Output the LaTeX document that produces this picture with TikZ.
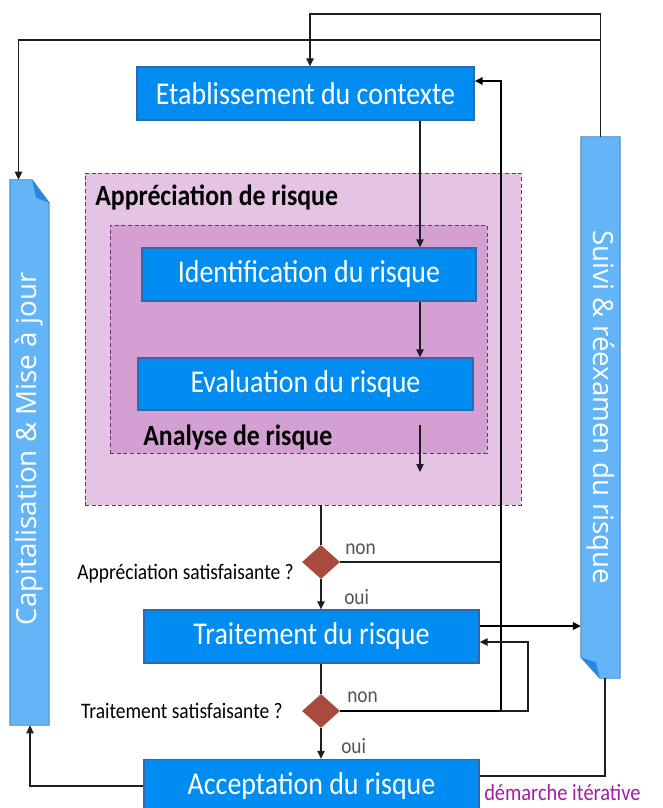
\documentclass[tikz,border=0pt]{standalone}
\usepackage{fontspec}
\setmainfont{Carlito}[FakeStretch=0.88]
\newfontfamily\barfont{Open Sans}
\usetikzlibrary{arrows.meta,shapes.geometric,calc}
\definecolor{boxblue}{RGB}{0,140,240}
\definecolor{boxborder}{RGB}{45,105,175}
\definecolor{barblue}{RGB}{99,181,247}
\definecolor{barborder}{RGB}{75,135,200}
\definecolor{foldblue}{RGB}{40,135,225}
\definecolor{outerfill}{RGB}{228,195,227}
\definecolor{innerfill}{RGB}{212,159,211}
\definecolor{dashpurple}{RGB}{120,45,120}
\definecolor{diamondred}{RGB}{169,74,63}
\definecolor{itpurple}{RGB}{160,32,160}
\definecolor{labgray}{RGB}{85,85,85}
\definecolor{linegray}{RGB}{30,30,30}
\begin{document}
\begin{tikzpicture}[x=0.75pt,y=-0.75pt,
  stepbox/.style={draw=boxborder, line width=1pt, fill=boxblue, text=white,
    font=\fontsize{23.8}{27}\selectfont, inner sep=0pt, minimum height=39.75pt},
  zone/.style={draw=dashpurple, dashed, dash pattern=on 3pt off 2pt, line width=0.7pt, inner sep=0pt},
  decision/.style={diamond, fill=diamondred, draw=none, minimum width=28.5pt, minimum height=25.5pt, inner sep=0pt},
  barnode/.style={draw=none, inner sep=0pt, minimum width=29pt},
  bartext/.style={text=white, font=\barfont\fontsize{20.8}{24}\selectfont, inner sep=0pt},
  zonelabel/.style={font=\bfseries\fontsize{22}{25}\selectfont, anchor=west, inner sep=0pt},
  question/.style={font=\fontsize{16.6}{19}\selectfont, anchor=east, inner sep=0pt},
  answer/.style={font=\fontsize{16.5}{18}\selectfont, text=labgray, anchor=west, inner sep=0pt},
  conn/.style={draw=linegray, line width=0.9pt},
  thickconn/.style={draw=black, line width=1.8pt},
  tip/.style={-{Triangle[length=6pt,width=5.5pt]}}
]
\useasboundingbox (0,0) rectangle (663,808);
\clip (0,0) rectangle (663,808);

% zones
\node[zone, fill=outerfill, minimum width=327pt, minimum height=249pt] (outer) at (303,339) {};
\node[zone, fill=innerfill, minimum width=282.75pt, minimum height=171pt] (inner) at (298.5,339) {};
\node[zonelabel] (lapp) at (95,197) {Appréciation de risque};
\node[zonelabel] (lana) at (143,438) {Analyse de risque};

% main boxes
\node[stepbox, minimum width=252.75pt] (etab) at (305.5,93.5) {Etablissement du contexte};
\node[stepbox, minimum width=250.5pt] (ident) at (309,274.5) {Identification du risque};
\node[stepbox, minimum width=251.25pt, minimum height=39pt] (eval) at (305.5,384) {Evaluation du risque};
\node[stepbox, minimum width=251.25pt] (trait) at (311.5,636.5) {Traitement du risque};
\node[stepbox, minimum width=251.25pt] (accept) at (311.5,786) {Acceptation du risque};

% decisions
\node[decision] (d1) at (321,562) {};
\node[decision] (d2) at (321,711) {};
\node[question] (q1) at (294,574) {Appréciation satisfaisante ?};
\node[question] (q2) at (283,711) {Traitement satisfaisante ?};
\node[answer] (n1) at (345,549) {non};
\node[answer] (o1) at (344,597) {oui};
\node[answer] (n2) at (347,697) {non};
\node[answer] (o2) at (341,746) {oui};

% side bars
\node[barnode, minimum height=408.75pt] (cap) at (29.5,452.5) {};
\fill[barblue, draw=barborder, line width=0.7pt] (cap.south west) -- (cap.north west) -- ($(cap.north east)+(-17,0)$) -- ($(cap.north east)+(0,23)$) -- (cap.south east) -- cycle;
\fill[foldblue] ($(cap.north east)+(-17,0)$) -- ($(cap.north east)+(0,23)$) -- ($(cap.north east)+(-13,18)$) -- cycle;
\node[bartext, rotate=90] (captext) at (29.5,449) {Capitalisation \& Mise à jour};

\node[barnode, minimum height=405.75pt] (suivi) at (600.5,407.5) {};
\fill[barblue, draw=barborder, line width=0.7pt] (suivi.north west) -- (suivi.north east) -- (suivi.south east) -- ($(suivi.south west)+(19,0)$) -- ($(suivi.south west)+(0,-21)$) -- cycle;
\fill[foldblue] ($(suivi.south west)+(19,0)$) -- ($(suivi.south west)+(0,-21)$) -- ($(suivi.south west)+(15,-16)$) -- cycle;
\node[bartext, rotate=-90] (suivitext) at (600.5,407.5) {Suivi \& réexamen du risque};

\node[font=\fontsize{17.4}{20}\selectfont, text=itpurple, anchor=west, inner sep=0pt] (iter) at (484,793) {démarche itérative};

% helper coordinates
\coordinate (ytop) at (0,14);
\coordinate (ysec) at (600,40);
\coordinate (x310) at (310,0);
\coordinate (x18) at (18.5,0);
\coordinate (x420) at (420,0);
\coordinate (a1) at (420,425);
\coordinate (a2) at (420,472);
\coordinate (vx) at (501,0);
\coordinate (vr) at (528,0);
\coordinate (ya) at (0,81);
\coordinate (yr) at (0,642);
\coordinate (ys) at (0,626);
\coordinate (x30) at (30,0);
\coordinate (x605) at (605,0);
\coordinate (yb) at (0,776);

% connectors
\draw[conn, tip] (suivi.north) -- (suivi.north |- ytop) -| (etab.north -| x310);
\draw[conn, tip] (ysec) -| (cap.north -| x18);
\draw[conn, tip] (etab.south -| x420) -- (ident.north -| x420);
\draw[conn, tip] (ident.south -| x420) -- (eval.north -| x420);
\draw[conn, tip] (a1) -- (a2);
\draw[conn] (d1.north |- outer.south) -- (d1.north);
\draw[conn, tip] (d1.south) -- (trait.north -| d1.south);
\draw[conn] (d1.east) -- (d1.east -| vx);
\draw[thickconn, tip] (d2.east) -- (d2.east -| vx) -- (vx |- ya) -- (etab.east |- ya);
\draw[conn, tip] (d2.east -| vx) -- (d2.east -| vr) -- (vr |- yr) -- (trait.east |- yr);
\draw[thickconn, tip] (trait.east |- ys) -- (suivi.west |- ys);
\draw[conn] (trait.south -| d2.north) -- (d2.north);
\draw[conn, tip] (d2.south) -- (accept.north -| d2.south);
\draw[conn, tip] (accept.west) -| (cap.south -| x30);
\draw[conn] (suivi.south -| x605) -- (x605 |- yb) -- (accept.east |- yb);
\end{tikzpicture}
\end{document}
